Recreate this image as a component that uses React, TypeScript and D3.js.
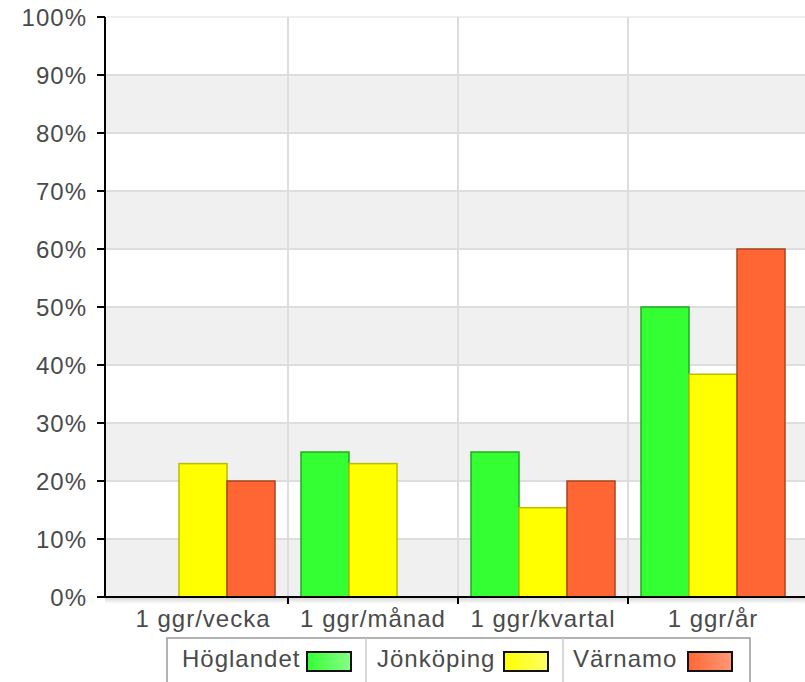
import React from "react";
import * as d3 from "d3";

const categories = ["1 ggr/vecka", "1 ggr/månad", "1 ggr/kvartal", "1 ggr/år"];
const seriesNames = ["Höglandet", "Jönköping", "Värnamo"];
const hoglandet = [0, 25, 25, 50];
const jonkoping = [23, 23, 15.4, 38.4];
const varnamo = [20, 0, 20, 60];
const yTicks = [0, 10, 20, 30, 40, 50, 60, 70, 80, 90, 100];

const fills = ["#33ff33", "#ffff00", "#ff6633"];
const strokes = ["#22aa22", "#bbbb00", "#a84422"];
const lightFills = ["#88ff88", "#ffff66", "#ff9977"];

export default function App() {
  const W = 805, H = 682;
  const axisX = 105;
  const y = d3.scaleLinear().domain([0, 100]).range([597, 17]);
  const x = d3.scaleBand<string>().domain(categories).range([118, 798]);
  const inner = d3.scaleBand<string>().domain(seriesNames).range([13, x.bandwidth() - 13]);
  const series = [hoglandet, jonkoping, varnamo];
  const font = "'Liberation Sans', Arial, Helvetica, sans-serif";
  const ls = 1;
  const legendItems = [
    { name: seriesNames[0], tx: 182, sx: 307 },
    { name: seriesNames[1], tx: 377, sx: 504 },
    { name: seriesNames[2], tx: 573, sx: 688 },
  ];
  return (
    <svg width={W} height={H} style={{ position: "absolute", left: 0, top: 0, background: "#fff" }}>
      <defs>
        {fills.map((f, i) => (
          <linearGradient key={i} id={`lg${i}`} x1="0" x2="1" y1="0" y2="0">
            <stop offset="0" stopColor={f} />
            <stop offset="1" stopColor={lightFills[i]} />
          </linearGradient>
        ))}
        <linearGradient id="shadow" x1="0" x2="0" y1="0" y2="1">
          <stop offset="0" stopColor="#000" stopOpacity={0.15} />
          <stop offset="1" stopColor="#000" stopOpacity={0} />
        </linearGradient>
      </defs>
      {yTicks.slice(0, -1).map((t, i) =>
        i % 2 === 0 ? (
          <rect key={t} x={axisX} y={y(t + 10)} width={W - axisX} height={y(t) - y(t + 10)} fill="#f0f0f0" />
        ) : null
      )}
      {yTicks.map((t) => (
        <line key={t} x1={axisX} x2={W} y1={y(t)} y2={y(t)} stroke={t === 100 ? "#eeeeee" : "#dddddd"} strokeWidth={2} />
      ))}
      {categories.slice(1).map((c) => (
        <line key={c} x1={x(c)!} x2={x(c)!} y1={y(100)} y2={y(0)} stroke="#dddddd" strokeWidth={2} />
      ))}
      {categories.map((c, ci) =>
        series.map((s, si) =>
          s[ci] > 0 ? (
            <rect
              key={`${ci}-${si}`}
              x={x(c)! + inner(seriesNames[si])!}
              y={y(s[ci])}
              width={inner.bandwidth()}
              height={y(0) - y(s[ci])}
              fill={fills[si]}
              stroke={strokes[si]}
              strokeWidth={1.5}
            />
          ) : null
        )
      )}
      <rect x={axisX} y={y(0) + 1} width={W - axisX} height={6} fill="url(#shadow)" />
      <line x1={axisX} x2={W} y1={y(0)} y2={y(0)} stroke="#000" strokeWidth={2} />
      <line x1={axisX} x2={axisX} y1={y(100)} y2={y(0)} stroke="#000" strokeWidth={2} />
      {yTicks.map((t) => (
        <line key={t} x1={axisX - 8} x2={axisX} y1={y(t)} y2={y(t)} stroke="#000" strokeWidth={2} />
      ))}
      {categories.slice(1).map((c) => (
        <line key={c} x1={x(c)!} x2={x(c)!} y1={y(0)} y2={y(0) + 7} stroke="#000" strokeWidth={2} />
      ))}
      {yTicks.map((t) => (
        <text key={t} x={86 + ls} y={y(t) + 9} textAnchor="end" fontFamily={font} fontSize={24} letterSpacing={ls} fill="#4a4a4a">
          {t}%
        </text>
      ))}
      {categories.map((c) => (
        <text key={c} x={x(c)! + x.bandwidth() / 2} y={627} textAnchor="middle" fontFamily={font} fontSize={24} letterSpacing={ls} fill="#4a4a4a">
          {c}
        </text>
      ))}
      <rect x={167} y={638} width={583} height={80} fill="#fff" stroke="#999" strokeWidth={1.5} />
      <line x1={366} x2={366} y1={638} y2={H} stroke="#ccc" strokeWidth={1.5} />
      <line x1={563} x2={563} y1={638} y2={H} stroke="#ccc" strokeWidth={1.5} />
      {legendItems.map((it, i) => (
        <g key={it.name}>
          <text x={it.tx} y={667} fontFamily={font} fontSize={24} letterSpacing={ls} fill="#4a4a4a">
            {it.name}
          </text>
          <rect x={it.sx} y={652} width={44} height={19} fill={`url(#lg${i})`} stroke="#111" strokeWidth={2} />
        </g>
      ))}
    </svg>
  );
}
